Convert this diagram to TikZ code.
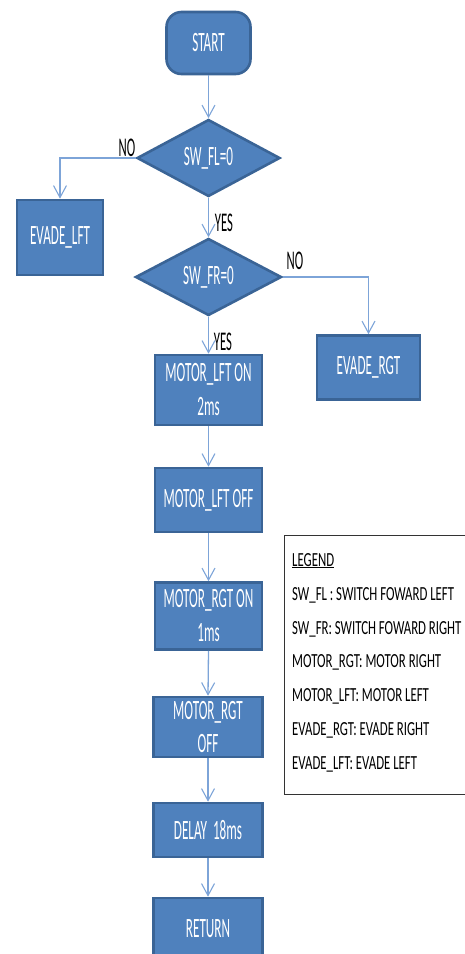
\documentclass[tikz,border=0pt]{standalone}
\usepackage{fontspec}
\usetikzlibrary{shapes.geometric,arrows.meta}
\newfontfamily\boxfont{Carlito}[FakeStretch=0.47]
\newfontfamily\legfont{Carlito}[FakeStretch=0.64]
\definecolor{boxfill}{HTML}{4F81BD}
\definecolor{boxline}{HTML}{3A6496}
\definecolor{flow}{HTML}{7DA4D8}
\begin{document}
\begin{tikzpicture}[x=1pt,y=-1pt,
  base/.style={fill=boxfill,draw=boxline,line width=2.6pt,text=white,inner sep=0pt,
    font=\boxfont\fontsize{28}{34}\selectfont,align=center},
  procbox/.style={base,rectangle},
  termbox/.style={base,rectangle,rounded corners=15pt},
  decbox/.style={base,diamond,aspect=1.86},
  flowline/.style={draw=flow,line width=1.3pt,-{Straight Barb[length=12pt,width=13pt,line width=1.1pt]}},
  answer/.style={font=\boxfont\fontsize{27}{28}\selectfont,text=black,inner sep=0pt},
  legtext/.style={font=\legfont\fontsize{20}{22}\selectfont,text=black,inner sep=0pt,anchor=base west}]
\useasboundingbox (0,0) rectangle (465,954);

% flowchart boxes
\node[termbox,minimum width=84pt,minimum height=62pt] (start) at (208.5,43) {START};
\node[decbox,minimum width=143pt,minimum height=77pt] (dfl) at (208.5,158) {SW\_FL=0};
\node[procbox,minimum width=86pt,minimum height=75pt] (elft) at (60,237.5) {EVADE\_LFT};
\node[decbox,minimum width=146pt,minimum height=77pt] (dfr) at (208.5,277) {SW\_FR=0};
\node[procbox,minimum width=103pt,minimum height=64pt] (ergt) at (368.5,367.5) {EVADE\_RGT};
\node[procbox,minimum width=107pt,minimum height=70pt] (mlon) at (208.5,390) {MOTOR\_LFT ON\\2ms};
\node[procbox,minimum width=107pt,minimum height=64pt] (mloff) at (208.5,500) {MOTOR\_LFT OFF};
\node[procbox,minimum width=107pt,minimum height=67pt] (mron) at (208.5,616) {MOTOR\_RGT ON\\1ms};
\node[procbox,minimum width=109pt,minimum height=60pt] (mroff) at (208,727) {MOTOR\_RGT\\OFF};
\node[procbox,minimum width=109pt,minimum height=54pt] (delay) at (208,830) {DELAY\ \ 18ms};
\node[procbox,minimum width=109pt,minimum height=62pt] (ret) at (208,929) {RETURN};

% connectors
\draw[flowline] (start.south) -- (dfl.north);
\draw[flowline] (dfl.west) -| (elft.north);
\draw[flowline] (dfl.south) -- (dfr.north);
\draw[flowline] (dfr.east) -| (ergt.north);
\draw[flowline] (dfr.south) -- (mlon.north);
\draw[flowline] (mlon.south) -- (mloff.north);
\draw[flowline] (mloff.south) -- (mron.north);
\draw[flowline] (mron.south) -- (mroff.north);
\draw[flowline] (mroff.south) -- (delay.north);
\draw[flowline] (delay.south) -- (ret.north);

% branch labels
\node[answer] (nofl) at (127,148) {NO};
\node[answer] (yesfl) at (224,223) {YES};
\node[answer] (nofr) at (295,261) {NO};
\node[answer] (yesfr) at (223,342) {YES};

% legend
\draw[draw=black!80,line width=1pt] (467,535) -- (284.5,535) -- (284.5,794.5) -- (467,794.5);
\node[legtext] (leg0) at (292,566) {\underline{LEGEND}};
\node[legtext] (leg1) at (292,600) {SW\_FL : SWITCH FOWARD LEFT};
\node[legtext] (leg2) at (292,634) {SW\_FR: SWITCH FOWARD RIGHT};
\node[legtext] (leg3) at (292,667.5) {MOTOR\_RGT: MOTOR RIGHT};
\node[legtext] (leg4) at (292,701.5) {MOTOR\_LFT: MOTOR LEFT};
\node[legtext] (leg5) at (292,735) {EVADE\_RGT: EVADE RIGHT};
\node[legtext] (leg6) at (292,769) {EVADE\_LFT: EVADE LEFT};
\end{tikzpicture}
\end{document}
